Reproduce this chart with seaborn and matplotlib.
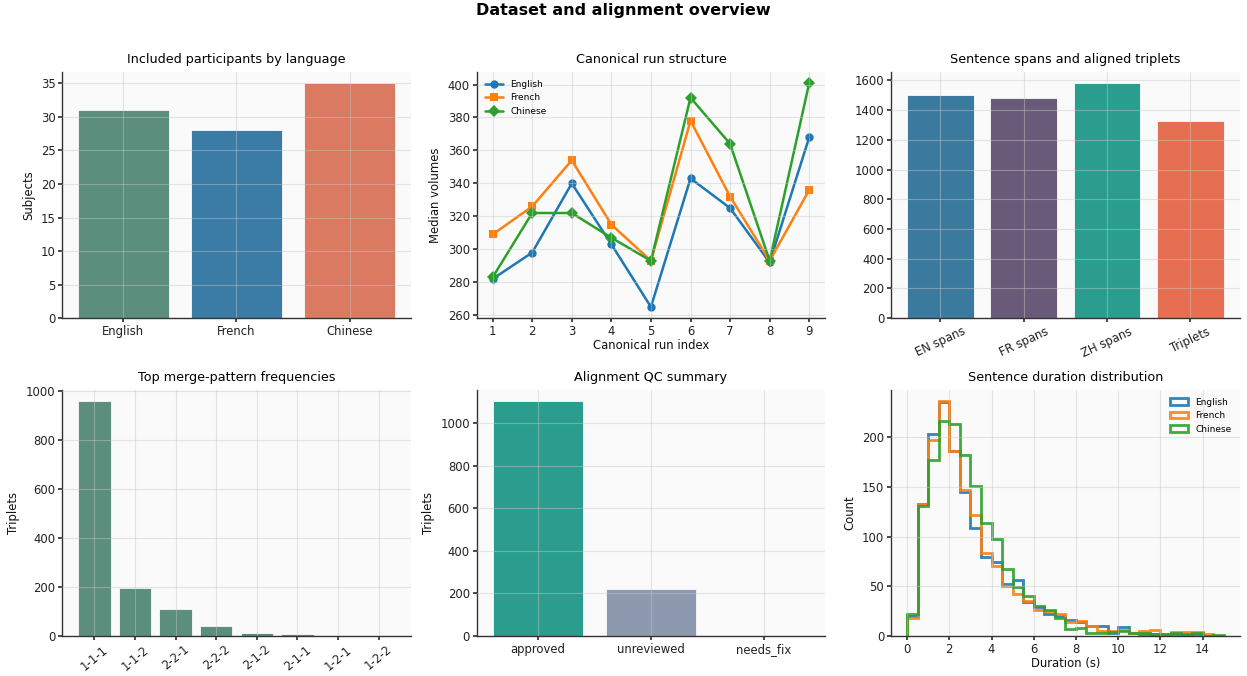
import numpy as np
import pandas as pd
import matplotlib
matplotlib.use("Agg")
import matplotlib.pyplot as plt
import seaborn as sns

# participants per language
langs = ["English", "French", "Chinese"]
subjects = [31, 28, 35]
lang_colors = ["#5b8e7d", "#3a7ca5", "#d97a61"]

# median volumes per canonical run
run_idx = [1, 2, 3, 4, 5, 6, 7, 8, 9]
med_en = [282, 298, 340, 303, 265, 343, 325, 292, 368]
med_fr = [309, 326, 354, 315, 293, 378, 332, 293, 336]
med_zh = [283, 322, 322, 307, 293, 392, 364, 293, 401]
line_colors = ["#1f77b4", "#ff7f0e", "#2ca02c"]

# spans and triplets
span_labels = ["EN spans", "FR spans", "ZH spans", "Triplets"]
span_counts = [1500, 1482, 1580, 1325]
span_colors = ["#3b7a9f", "#6a5a7a", "#2a9d8f", "#e76f51"]

# merge patterns
merge_labels = ["1-1-1", "1-1-2", "2-2-1", "2-2-2", "2-1-2", "2-1-1", "1-2-1", "1-2-2"]
merge_counts = [957, 196, 112, 41, 11, 9, 1, 1]

# QC status
qc_labels = ["approved", "unreviewed", "needs_fix"]
qc_counts = [1101, 222, 0]
qc_colors = ["#2a9d8f", "#8d99ae", "#e76f51"]

# sentence durations, counts per 0.5 s bin from 0 to 15 s
dur_edges = np.arange(0, 15.5, 0.5)
dur_en = [20, 133, 203, 235, 186, 145, 109, 80, 75, 52, 56, 34, 29, 22, 20,
          16, 14, 10, 10, 3, 9, 3, 2, 2, 1, 2, 1, 2, 0, 0]
dur_fr = [18, 133, 197, 236, 186, 147, 122, 84, 70, 50, 42, 35, 26, 25, 22,
          14, 15, 10, 5, 5, 6, 3, 5, 6, 2, 4, 4, 4, 2, 0]
dur_zh = [22, 131, 177, 216, 213, 182, 151, 114, 98, 67, 49, 40, 30, 26, 18,
          7, 8, 3, 3, 4, 5, 3, 3, 2, 2, 3, 2, 3, 0, 1]

sns.set_theme(style="white")
plt.rcParams["font.family"] = ["DejaVu Sans"]
plt.rcParams.update({
    "axes.facecolor": "#fafafa",
    "figure.facecolor": "white",
    "text.color": "black",
    "axes.labelcolor": "#111111",
    "xtick.color": "#222222",
    "ytick.color": "#222222",
})

fig, axes = plt.subplots(2, 3, figsize=(12.47, 6.76), dpi=100)
fig.subplots_adjust(left=0.05, right=0.994, top=0.894, bottom=0.059,
                    wspace=0.19, hspace=0.29)

TICK = 8.4
LAB = 8.4
TIT = 9.2


def style(ax):
    sns.despine(ax=ax)
    for s in ["left", "bottom"]:
        ax.spines[s].set_color("#333333")
        ax.spines[s].set_linewidth(1.0)
    ax.set_axisbelow(False)
    ax.grid(True, color="#c8c8c8", alpha=0.45, linewidth=0.8)
    ax.tick_params(axis="both", labelsize=TICK, length=3, color="#333333",
                   bottom=True, left=True, pad=2)


def bar_xlim(ax, n):
    # same padding as plain matplotlib bars
    pad = 0.05 * (n - 1 + 0.8)
    ax.set_xlim(-0.4 - pad, n - 1 + 0.4 + pad)


# participants
ax = axes[0, 0]
df1 = pd.DataFrame({"lang": langs, "n": subjects})
sns.barplot(data=df1, x="lang", y="n", hue="lang", palette=lang_colors,
            saturation=1, legend=False, ax=ax, edgecolor="#fafafa", linewidth=0.6)
bar_xlim(ax, len(langs))
ax.set_title("Included participants by language", fontsize=TIT)
ax.set_xlabel("")
ax.set_ylabel("Subjects", fontsize=LAB)
style(ax)

# run structure
ax = axes[0, 1]
df2 = pd.DataFrame({
    "run": run_idx * 3,
    "vol": med_en + med_fr + med_zh,
    "lang": ["English"] * 9 + ["French"] * 9 + ["Chinese"] * 9,
})
sns.lineplot(data=df2, x="run", y="vol", hue="lang", style="lang",
             markers=["o", "s", "D"], dashes=False, palette=line_colors,
             linewidth=1.8, markersize=6, markeredgewidth=0, ax=ax)
h, l = ax.get_legend_handles_labels()
ax.legend(h, l, loc="upper left", fontsize=6.5, frameon=False)
ax.set_xticks(run_idx)
ax.set_title("Canonical run structure", fontsize=TIT)
ax.set_xlabel("Canonical run index", fontsize=LAB, labelpad=1)
ax.set_ylabel("Median volumes", fontsize=LAB)
style(ax)

# spans
ax = axes[0, 2]
df3 = pd.DataFrame({"kind": span_labels, "n": span_counts})
sns.barplot(data=df3, x="kind", y="n", hue="kind", palette=span_colors,
            saturation=1, legend=False, ax=ax, edgecolor="#fafafa", linewidth=0.6)
bar_xlim(ax, len(span_labels))
ax.set_title("Sentence spans and aligned triplets", fontsize=TIT)
ax.set_xlabel("")
ax.set_ylabel("")
style(ax)
ax.tick_params(axis="x", labelrotation=25)

# merge patterns
ax = axes[1, 0]
df4 = pd.DataFrame({"pat": merge_labels, "n": merge_counts})
sns.barplot(data=df4, x="pat", y="n", color="#5b8e7d", saturation=1,
            ax=ax, edgecolor="#fafafa", linewidth=0.6)
bar_xlim(ax, len(merge_labels))
ax.set_title("Top merge-pattern frequencies", fontsize=TIT)
ax.set_xlabel("")
ax.set_ylabel("Triplets", fontsize=LAB)
style(ax)
ax.tick_params(axis="x", labelrotation=40)

# QC summary
ax = axes[1, 1]
df5 = pd.DataFrame({"qc": qc_labels, "n": qc_counts})
sns.barplot(data=df5, x="qc", y="n", hue="qc", palette=qc_colors,
            saturation=1, legend=False, ax=ax, edgecolor="#fafafa", linewidth=0.6)
bar_xlim(ax, len(qc_labels))
ax.set_title("Alignment QC summary", fontsize=TIT)
ax.set_xlabel("")
ax.set_ylabel("Triplets", fontsize=LAB)
style(ax)

# duration histogram
ax = axes[1, 2]
centers = (dur_edges[:-1] + dur_edges[1:]) / 2
for name, counts, col in zip(langs, [dur_en, dur_fr, dur_zh], line_colors):
    ax.hist(centers, bins=dur_edges, weights=counts, histtype="step",
            linewidth=2, color=col, alpha=0.9, label=name)
ax.legend(loc="upper right", fontsize=6.5, frameon=False)
ax.set_title("Sentence duration distribution", fontsize=TIT)
ax.set_xlabel("Duration (s)", fontsize=LAB, labelpad=1)
ax.set_ylabel("Count", fontsize=LAB)
ax.set_xticks([0, 2, 4, 6, 8, 10, 12, 14])
style(ax)

fig.suptitle("Dataset and alignment overview", fontsize=11.5, fontweight="bold", y=0.995)
fig.savefig("out.png", dpi=100)
